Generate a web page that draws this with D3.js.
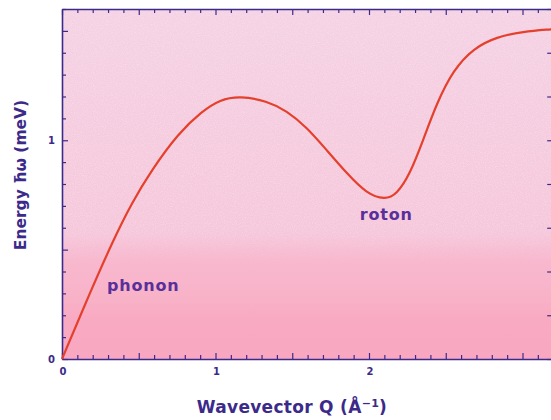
<!DOCTYPE html>
<html>
<head>
<meta charset="utf-8">
<script src="https://cdn.jsdelivr.net/npm/d3@7"></script>
<style>
  html, body { margin: 0; padding: 0; background: #ffffff; }
  svg { display: block; }
</style>
</head>
<body>
<svg id="chart" width="551" height="420"></svg>
<script>
// Helium-4 excitation spectrum: energy vs wavevector
const wavevector = [0, 0.171, 0.334, 0.454, 0.584, 0.758, 0.910, 1.029, 1.160, 1.334, 1.464, 1.594, 1.724, 1.855, 1.985, 2.104, 2.180, 2.267, 2.354, 2.441, 2.549, 2.679, 2.832, 3.005, 3.179, 3.2];
const energy     = [0, 0.285, 0.544, 0.713, 0.864, 1.032, 1.131, 1.186, 1.202, 1.180, 1.135, 1.060, 0.955, 0.849, 0.755, 0.728, 0.752, 0.845, 1.003, 1.169, 1.321, 1.420, 1.473, 1.496, 1.507, 1.508];

const xTickLabels = [0, 1, 2];
const yTickLabels = [0, 1];
const regionLabels = ["phonon", "roton"];
const regionQ = [0.293, 1.94];
const regionE = [0.31, 0.635];

const svg = d3.select("#chart");
const ink = "#3c2a8a";

const x = d3.scaleLinear().domain([0, 3.2]).range([62, 553.2]);
const y = d3.scaleLinear().domain([0, 1.6]).range([359, 9]);

// Banded pink background for the plotting area
const defs = svg.append("defs");
const grad = defs.append("linearGradient")
  .attr("id", "bg").attr("x1", 0).attr("y1", 0).attr("x2", 0).attr("y2", 1);
[["0%", "#f5d2e4"], ["64%", "#f6c7db"], ["72%", "#f8b8ce"], ["83%", "#f8b2c8"],
 ["88%", "#f9aac3"], ["100%", "#f9a7c1"]]
  .forEach(([o, c]) => grad.append("stop").attr("offset", o).attr("stop-color", c));

// Speckle texture, fading out toward the lower bands
const fade = defs.append("linearGradient")
  .attr("id", "fade").attr("x1", 0).attr("y1", 0).attr("x2", 0).attr("y2", 1);
[["0%", "#fff"], ["62%", "#fff"], ["74%", "#000"], ["100%", "#000"]]
  .forEach(([o, c]) => fade.append("stop").attr("offset", o).attr("stop-color", c));
defs.append("mask").attr("id", "fadeMask")
  .attr("maskContentUnits", "objectBoundingBox")
  .append("rect").attr("width", 1).attr("height", 1).attr("fill", "url(#fade)");

const grain = defs.append("filter").attr("id", "grain")
  .attr("x", 0).attr("y", 0).attr("width", 1).attr("height", 1);
grain.append("feTurbulence").attr("type", "fractalNoise")
  .attr("baseFrequency", 0.9).attr("numOctaves", 2).attr("seed", 3).attr("result", "n");
grain.append("feColorMatrix").attr("in", "n").attr("type", "matrix")
  .attr("values", "0 0 0 0 1  0 0 0 0 1  0 0 0 0 1  0 0 0 -1.6 1.0");

const xLeft = x.range()[0], xRight = x.range()[1];
const yTop = y.range()[1], yBot = y.range()[0];

svg.append("rect")
  .attr("x", xLeft).attr("y", yTop)
  .attr("width", xRight - xLeft).attr("height", yBot - yTop)
  .attr("fill", "url(#bg)");
svg.append("g").attr("mask", "url(#fadeMask)")
  .append("rect")
  .attr("x", xLeft).attr("y", yTop)
  .attr("width", xRight - xLeft).attr("height", yBot - yTop)
  .attr("filter", "url(#grain)").attr("opacity", 0.3);

// Frame axes with inward ticks every 0.1
const xMinor = d3.range(0, 3.201, 0.1);
const yMinor = d3.range(0, 1.601, 0.1);
const isMajor = v => Math.abs(v * 2 - Math.round(v * 2)) < 1e-6;

function frameAxis(axis, transform, cls) {
  const g = svg.append("g").attr("class", cls).attr("transform", transform).call(axis);
  g.select(".domain").attr("stroke", ink).attr("stroke-width", 1.6);
  g.selectAll(".tick line").attr("stroke", ink).attr("stroke-width", 1.2);
  g.selectAll(".tick text").remove();
  return g;
}

const axBottom = frameAxis(d3.axisBottom(x).tickValues(xMinor).tickSizeOuter(0).tickSizeInner(-4), `translate(0,${yBot})`, "xb");
axBottom.selectAll(".tick line").attr("y2", d => isMajor(d) ? -6 : -4);
const axTop = frameAxis(d3.axisTop(x).tickValues(xMinor).tickSizeOuter(0).tickSizeInner(-4), `translate(0,${yTop})`, "xt");
axTop.selectAll(".tick line").attr("y2", d => isMajor(d) ? 6 : 4);
const axLeft = frameAxis(d3.axisLeft(y).tickValues(yMinor).tickSizeOuter(0).tickSizeInner(-4), `translate(${xLeft},0)`, "yl");
axLeft.selectAll(".tick line").attr("x2", d => isMajor(d) ? 6 : 4);
frameAxis(d3.axisRight(y).tickValues(d3.range(0, 1.601, 0.2)).tickSizeOuter(0).tickSizeInner(-5), `translate(${xRight - 1},0)`, "yr");

// Tick labels
svg.append("g").selectAll("text").data(xTickLabels).join("text")
  .attr("x", d => x(d) + 1).attr("y", yBot + 16)
  .attr("text-anchor", "middle")
  .attr("font-family", "DejaVu Sans, sans-serif").attr("font-size", 10).attr("font-weight", "bold")
  .attr("fill", ink).text(d => d);
svg.append("g").selectAll("text").data(yTickLabels).join("text")
  .attr("x", xLeft - 7).attr("y", d => y(d) + 4)
  .attr("text-anchor", "end")
  .attr("font-family", "DejaVu Sans, sans-serif").attr("font-size", 10).attr("font-weight", "bold")
  .attr("fill", ink).text(d => d);

// Axis titles
svg.append("text")
  .attr("x", 292).attr("y", 413)
  .attr("text-anchor", "middle")
  .attr("font-family", "DejaVu Sans, sans-serif").attr("font-size", 17).attr("font-weight", "bold")
  .attr("letter-spacing", 0.3)
  .attr("fill", ink)
  .call(t => {
    t.append("tspan").text("Wavevector Q (Å");
    t.append("tspan").attr("dy", -6).attr("font-size", 11).text("−1");
    t.append("tspan").attr("dy", 6).text(")");
  });
svg.append("text")
  .attr("transform", "translate(26,175) rotate(-90)")
  .attr("text-anchor", "middle")
  .attr("font-family", "DejaVu Sans, sans-serif").attr("font-size", 15.5).attr("font-weight", "bold")
  .attr("fill", ink)
  .text("Energy ħω (meV)");

// Dispersion curve, smoothed through the sampled points
const line = d3.line()
  .x((d, i) => x(wavevector[i]))
  .y((d, i) => y(energy[i]))
  .curve(d3.curveBasis);
svg.append("path")
  .datum(energy)
  .attr("d", line)
  .attr("fill", "none")
  .attr("stroke", "#e4402c")
  .attr("stroke-width", 2.2)
  .attr("stroke-linejoin", "round");

// Region labels
svg.append("g").selectAll("text").data(regionLabels).join("text")
  .attr("x", (d, i) => x(regionQ[i])).attr("y", (d, i) => y(regionE[i]))
  .attr("font-family", "DejaVu Sans, sans-serif").attr("font-size", 16).attr("font-weight", "bold")
  .attr("letter-spacing", 0.8)
  .attr("fill", "#59309a")
  .text(d => d);
</script>
</body>
</html>
